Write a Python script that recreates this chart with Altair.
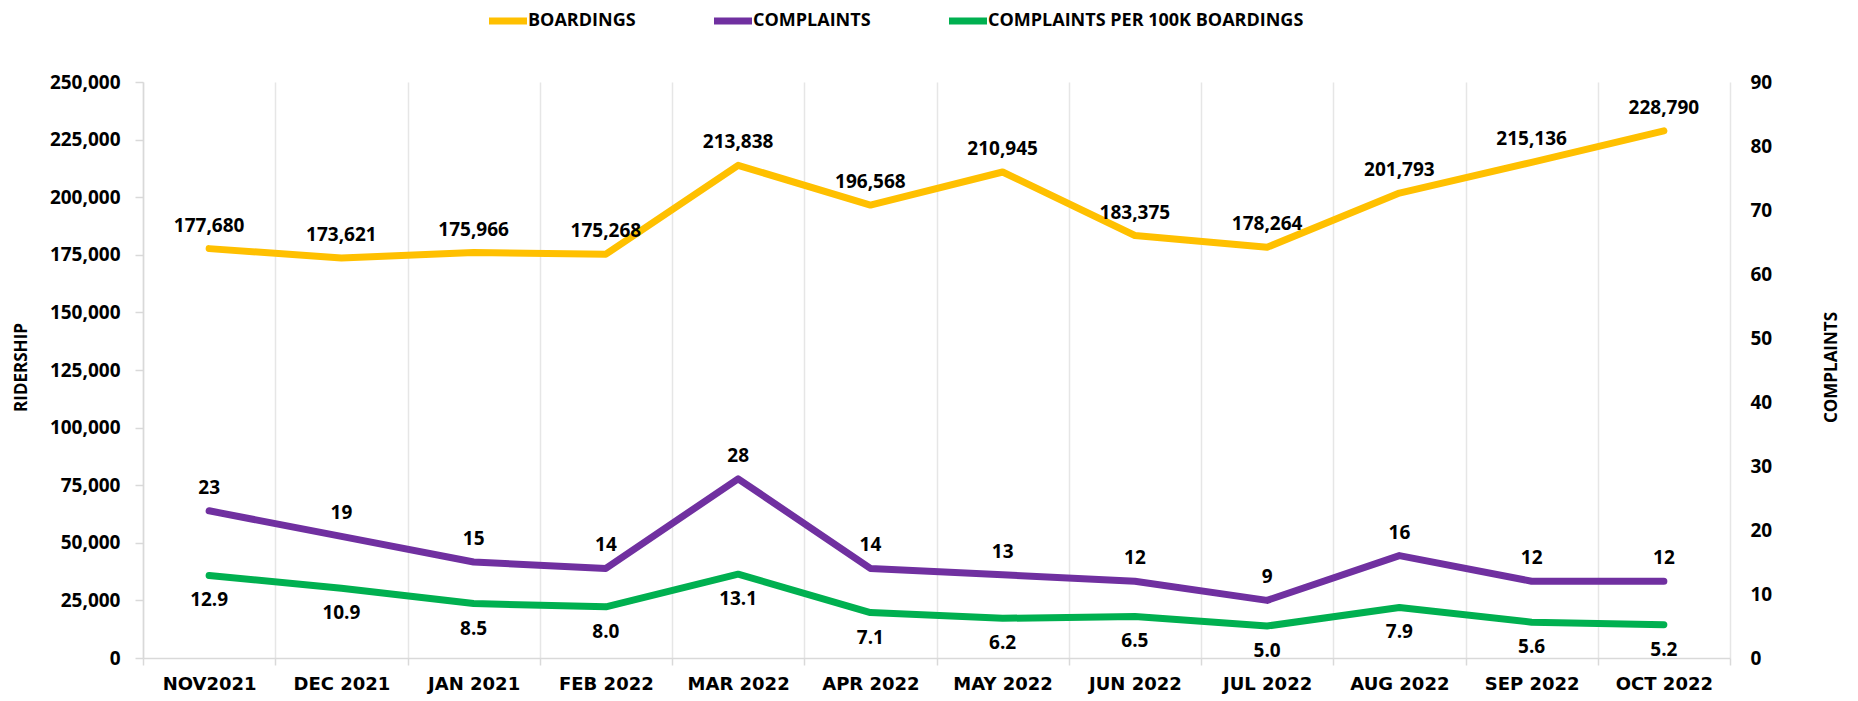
import altair as alt
import pandas as pd

months = ["NOV2021", "DEC 2021", "JAN 2021", "FEB 2022", "MAR 2022", "APR 2022",
          "MAY 2022", "JUN 2022", "JUL 2022", "AUG 2022", "SEP 2022", "OCT 2022"]
boardings = [177680, 173621, 175966, 175268, 213838, 196568,
             210945, 183375, 178264, 201793, 215136, 228790]
complaints = [23, 19, 15, 14, 28, 14, 13, 12, 9, 16, 12, 12]
per100k = [12.9, 10.9, 8.5, 8.0, 13.1, 7.1, 6.2, 6.5, 5.0, 7.9, 5.6, 5.2]

series = ["BOARDINGS", "COMPLAINTS", "COMPLAINTS PER 100K BOARDINGS"]
colors = ["#FFC000", "#7030A0", "#00B050"]

df = pd.DataFrame({"month": months, "boardings": boardings,
                   "complaints": complaints, "per100k": per100k})

FONT = "Open Sans"
XFONT = "DejaVu Sans"

color_scale = alt.Scale(domain=series, range=colors)
legend = alt.Legend(
    title=None, orient="none", legendX=352, legendY=-74, direction="horizontal",
    symbolType="M-2,0H2", symbolSize=361, symbolStrokeWidth=7,
    labelFont=FONT, labelFontSize=18, labelFontWeight="bold", labelColor="black",
    labelOffset=7, columnPadding=64, padding=0, labelLimit=500,
)

x = alt.X(
    "month:N", sort=months,
    scale=alt.Scale(type="band", paddingInner=0, paddingOuter=0),
    bandPosition=0.5,
    axis=alt.Axis(
        title=None, labelAngle=0, tickBand="extent", grid=True, gridColor="#e6e6e6",
        gridWidth=1.5, domainColor="#d9d9d9", domainWidth=1.5, tickColor="#d9d9d9",
        tickSize=7, tickWidth=1.5, labelFont=XFONT, labelFontSize=18,
        labelFontWeight="bold", labelColor="black", labelPadding=10,
    ),
)

left_axis = alt.Axis(
    title="RIDERSHIP", values=list(range(0, 250001, 25000)),
    labelExpr="format(datum.value, ',')", grid=False,
    domainColor="#d9d9d9", domainWidth=1.5, tickColor="#d9d9d9", tickSize=8, tickWidth=1.5,
    labelPadding=15, labelFont=FONT, labelFontSize=19, labelFontWeight="bold",
    labelColor="black", titleFont=FONT, titleFontSize=17, titleFontWeight="bold",
    titleColor="black", titleX=-122, titleY=285, titleAngle=270, titleBaseline="middle",
)
right_axis = alt.Axis(
    orient="right", title="COMPLAINTS", values=list(range(0, 91, 10)), grid=False,
    domain=False, ticks=False, tickSize=0, labelPadding=20, labelFont=FONT,
    labelFontSize=19, labelFontWeight="bold", labelColor="black",
    titleFont=FONT, titleFontSize=17, titleFontWeight="bold", titleColor="black",
    titleX=101, titleY=285, titleAngle=270, titleBaseline="middle",
)

base = alt.Chart(df)
line_style = dict(strokeWidth=7, strokeCap="round", strokeJoin="round")
text_style = dict(font=FONT, fontSize=19, fontWeight="bold", color="black")

yb = alt.Y("boardings:Q", scale=alt.Scale(domain=[0, 250000]), axis=left_axis)
line_b = base.transform_calculate(series="'BOARDINGS'").mark_line(**line_style).encode(
    x=x, y=yb, color=alt.Color("series:N", scale=color_scale, legend=legend))
text_b = base.mark_text(dy=-23, **text_style).encode(
    x=x, y=yb, text=alt.Text("boardings:Q", format=","))
left = alt.layer(line_b, text_b)

yc = alt.Y("complaints:Q", scale=alt.Scale(domain=[0, 90]), axis=right_axis)
yp = alt.Y("per100k:Q", scale=alt.Scale(domain=[0, 90]), axis=right_axis)
line_c = base.transform_calculate(series="'COMPLAINTS'").mark_line(**line_style).encode(
    x=x, y=yc, color=alt.Color("series:N", scale=color_scale, legend=legend))
line_p = base.transform_calculate(series="'COMPLAINTS PER 100K BOARDINGS'").mark_line(
    **line_style).encode(
    x=x, y=yp, color=alt.Color("series:N", scale=color_scale, legend=legend))
text_c = base.mark_text(dy=-23, **text_style).encode(
    x=x, y=yc, text=alt.Text("complaints:Q", format="d"))
text_p = base.mark_text(dy=25, **text_style).encode(
    x=x, y=yp, text=alt.Text("per100k:Q", format=".1f"))
right = alt.layer(line_c, line_p, text_c, text_p)

chart = alt.layer(left, right).resolve_scale(y="independent").properties(
    width=1587, height=576,
    autosize=alt.AutoSizeParams(type="none"),
    padding={"left": 135, "top": 74, "right": 120, "bottom": 40},
).configure_view(stroke=None)

chart.save("out.html", embed_options={"renderer": "svg", "actions": False})
